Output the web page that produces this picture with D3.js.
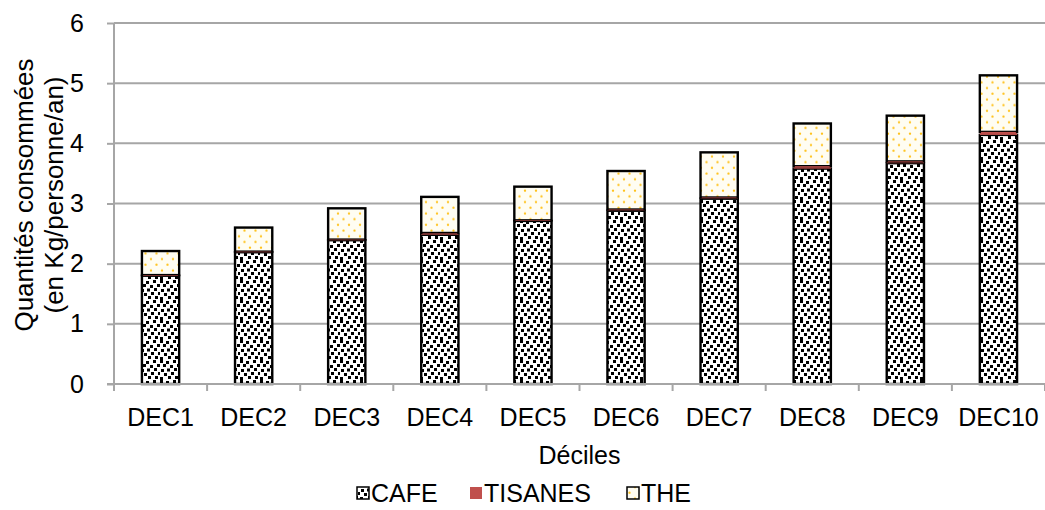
<!DOCTYPE html>
<html>
<head>
<meta charset="utf-8">
<script src="https://cdn.jsdelivr.net/npm/d3@7"></script>
<style>
  html, body { margin: 0; padding: 0; background: #fff; }
  svg { display: block; font-family: "Liberation Sans", Arial, sans-serif; }
</style>
</head>
<body>
<svg id="chart" width="1045" height="510"></svg>
<script>
// Consommation de café, tisanes et thé par décile (kg / personne / an)
const categories = ["DEC1", "DEC2", "DEC3", "DEC4", "DEC5", "DEC6", "DEC7", "DEC8", "DEC9", "DEC10"];
const cafe    = [1.80, 2.19, 2.39, 2.48, 2.71, 2.88, 3.08, 3.58, 3.67, 4.14];
const tisanes = [0.01, 0.01, 0.01, 0.03, 0.01, 0.02, 0.02, 0.04, 0.03, 0.05];
const the     = [0.40, 0.40, 0.52, 0.60, 0.56, 0.64, 0.75, 0.71, 0.76, 0.94];
const yTicks  = [0, 1, 2, 3, 4, 5, 6];
const seriesNames = ["CAFE", "TISANES", "THE"];

const svg = d3.select("#chart");
const margin = { left: 114, right: 0, top: 23, bottom: 126 };
const W = 1045, H = 510;
const fontSize = 25;
const font = "Liberation Sans, Arial, sans-serif";

// Motifs de remplissage : confettis noirs pour le café, points orangés pour le thé
const defs = svg.append("defs");
const confetti = defs.append("pattern")
  .attr("id", "pat-cafe").attr("patternUnits", "userSpaceOnUse")
  .attr("width", 20).attr("height", 20);
confetti.append("rect").attr("width", 20).attr("height", 20).attr("fill", "#fff");
[[0, 0], [6, 1], [13, 0], [17, 4], [3, 4], [10, 5], [1, 9], [7, 8.5], [14, 8],
 [18, 12], [4, 13], [11, 12], [0, 17], [8, 16], [15, 16]]
  .forEach(([x, y]) => confetti.append("rect")
    .attr("x", x).attr("y", y).attr("width", 3).attr("height", 3).attr("fill", "#000"));

const dots = defs.append("pattern")
  .attr("id", "pat-the").attr("patternUnits", "userSpaceOnUse")
  .attr("width", 11).attr("height", 11.4);
dots.append("rect").attr("width", 11).attr("height", 11.4).attr("fill", "#fffdf2");
[[2.5, 2.5], [8, 8.2]].forEach(([x, y]) => dots.append("circle")
  .attr("cx", x).attr("cy", y).attr("r", 1.15).attr("fill", "#ffc21a"));

const fills = { CAFE: "url(#pat-cafe)", TISANES: "#c0504d", THE: "url(#pat-the)" };

const x = d3.scaleBand().domain(categories)
  .range([margin.left, W - margin.right]).paddingInner(0).paddingOuter(0);
const y = d3.scaleLinear().domain([0, 6]).range([H - margin.bottom, margin.top]);
const barW = x.bandwidth() * 0.4;

// Quadrillage horizontal
svg.append("g").selectAll("line").data(yTicks.filter(t => t > 0)).join("line")
  .attr("x1", margin.left).attr("x2", W)
  .attr("y1", d => y(d)).attr("y2", d => y(d))
  .attr("stroke", "#a6a6a6").attr("stroke-width", 2);

// Empilement des séries
const rows = categories.map((c, i) => ({ cat: c, CAFE: cafe[i], TISANES: tisanes[i], THE: the[i] }));
const stacked = d3.stack().keys(seriesNames)(rows);

const gBars = svg.append("g");
stacked.forEach(layer => {
  const key = layer.key;
  gBars.append("g").selectAll("rect").data(layer).join("rect")
    .attr("x", d => x(d.data.cat) + (x.bandwidth() - barW) / 2)
    .attr("width", barW)
    .attr("y", d => y(d[1]))
    .attr("height", d => y(d[0]) - y(d[1]))
    .attr("fill", fills[key])
    .attr("stroke", key === "TISANES" ? "none" : "#000")
    .attr("stroke-width", key === "TISANES" ? 0 : 2.4);
});
// Les tisanes par-dessus les contours noirs
gBars.append("g").selectAll("rect").data(stacked[1]).join("rect")
  .attr("x", d => x(d.data.cat) + (x.bandwidth() - barW) / 2 + 1.2)
  .attr("width", barW - 2.4)
  .attr("y", d => y(d[1]))
  .attr("height", d => Math.max(0.6, y(d[0]) - y(d[1]) - 1.2))
  .attr("fill", "#c0504d");

// Axe des ordonnées
const yAxis = svg.append("g").attr("transform", `translate(${margin.left},0)`)
  .call(d3.axisLeft(y).tickValues(yTicks).tickSize(7).tickPadding(23).tickFormat(d3.format("d")));
yAxis.select(".domain").attr("stroke", "#a6a6a6").attr("stroke-width", 2)
  .attr("d", `M0,${y(6)}V${y(0)}`);
yAxis.selectAll(".tick line").attr("stroke", "#a6a6a6").attr("stroke-width", 2);
yAxis.selectAll(".tick text").attr("font-size", fontSize).attr("fill", "#000")
  .attr("font-family", font);

// Axe des abscisses
const xAxis = svg.append("g").attr("transform", `translate(0,${y(0)})`)
  .call(d3.axisBottom(x).tickSize(0).tickPadding(24));
xAxis.select(".domain").attr("stroke", "#a6a6a6").attr("stroke-width", 2)
  .attr("d", `M${margin.left - 7},0H${W}`);
xAxis.selectAll(".tick text").attr("font-size", fontSize).attr("fill", "#000")
  .attr("font-family", font);
// Graduations entre les catégories
svg.append("g").selectAll("line").data(d3.range(categories.length + 1)).join("line")
  .attr("x1", i => margin.left + i * x.step()).attr("x2", i => margin.left + i * x.step())
  .attr("y1", y(0)).attr("y2", y(0) + 7)
  .attr("stroke", "#a6a6a6").attr("stroke-width", 2);

// Titres des axes
svg.append("text").attr("x", (margin.left + W) / 2).attr("y", 464)
  .attr("text-anchor", "middle").attr("font-size", fontSize).text("Déciles");

const yTitle = svg.append("text").attr("text-anchor", "middle").attr("font-size", 26)
  .attr("transform", `translate(0,195) rotate(-90)`);
yTitle.append("tspan").attr("x", 0).attr("y", 33).text("Quantités consommées");
yTitle.append("tspan").attr("x", 0).attr("y", 63).text("(en Kg/personne/an)");

// Légende
const legendItems = [
  { name: "CAFE", fill: fills.CAFE, stroke: "#000", x: 357 },
  { name: "TISANES", fill: fills.TISANES, stroke: "none", x: 470 },
  { name: "THE", fill: fills.THE, stroke: "#000", x: 627 }
];
const gLeg = svg.append("g");
legendItems.forEach(it => {
  gLeg.append("rect").attr("x", it.x).attr("y", 487).attr("width", 12).attr("height", 12)
    .attr("fill", it.fill).attr("stroke", it.stroke).attr("stroke-width", it.stroke === "none" ? 0 : 1.5);
  gLeg.append("text").attr("x", it.x + 14).attr("y", 502).attr("font-size", fontSize).text(it.name);
});
</script>
</body>
</html>
